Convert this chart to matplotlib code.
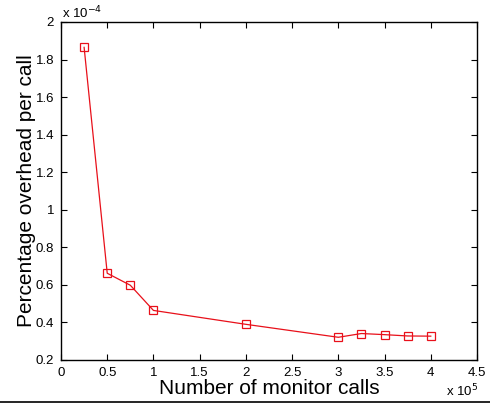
import matplotlib
matplotlib.use('Agg')
import matplotlib.pyplot as plt
from matplotlib.ticker import FuncFormatter
from matplotlib.lines import Line2D

plt.rcParams['font.family'] = ['Liberation Sans', 'DejaVu Sans']

# 数据
calls = [25000, 50000, 75000, 100000, 200000, 300000, 325000, 350000, 375000, 400000]
overhead = [1.865e-4, 0.662e-4, 0.598e-4, 0.464e-4, 0.39e-4, 0.321e-4,
            0.341e-4, 0.335e-4, 0.328e-4, 0.327e-4]
xticks = [0, 0.5e5, 1e5, 1.5e5, 2e5, 2.5e5, 3e5, 3.5e5, 4e5, 4.5e5]
yticks = [0.2e-4, 0.4e-4, 0.6e-4, 0.8e-4, 1.0e-4, 1.2e-4, 1.4e-4, 1.6e-4, 1.8e-4, 2.0e-4]

fig = plt.figure(figsize=(4.9, 4.04), dpi=100)
ax = fig.add_axes([61/490, 44/404, 416/490, 338/404])

ax.plot(calls, overhead, color='#e8101a', lw=0.9, marker='s', ms=6,
        mfc='none', mec='#e8101a', mew=0.9)

ax.set_xlim(0, 4.5e5)
ax.set_ylim(0.2e-4, 2e-4)
ax.set_xticks(xticks)
ax.set_yticks(yticks)
ax.xaxis.set_major_formatter(FuncFormatter(lambda v, p: '%g' % round(v / 1e5, 3)))
ax.yaxis.set_major_formatter(FuncFormatter(lambda v, p: '%g' % round(v / 1e-4, 3)))
ax.tick_params(direction='in', top=True, right=True, length=4, width=0.8,
               labelsize=9.5, pad=5)
for s in ax.spines.values():
    s.set_linewidth(1.0)

ax.set_xlabel('Number of monitor calls', fontsize=15, labelpad=0)
ax.set_ylabel('Percentage overhead per call', fontsize=15, labelpad=0)

# 倍数标注，仿MATLAB
fig.text(62/490, 1 - 13/404, r'x 10$^{-4}$', fontsize=9.5, va='center', ha='left')
fig.text(446/490, 1 - 391/404, r'x 10$^{5}$', fontsize=9.5, va='center', ha='left')

# 底部横线
fig.add_artist(Line2D([0, 1], [1 - 401.5/404, 1 - 401.5/404], color='black', lw=1.2,
                      transform=fig.transFigure))

fig.savefig('out.png', dpi=100)
